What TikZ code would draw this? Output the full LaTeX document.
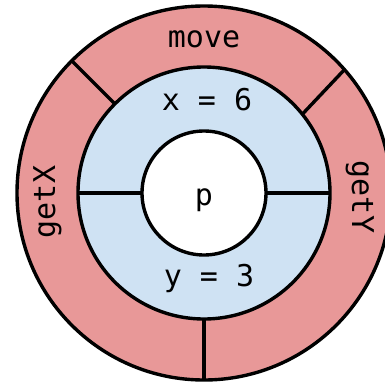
\documentclass[tikz,border=0pt]{standalone}
\usepackage{fontspec}
\setmonofont{DejaVu Sans Mono}
\usetikzlibrary{calc}
\definecolor{ringred}{RGB}{232,152,152}
\definecolor{ringblue}{RGB}{207,226,243}
\begin{document}
\begin{tikzpicture}[x=1pt,y=1pt,
  ringline/.style={line width=3.4pt,draw=black},
  lbl/.style={font=\ttfamily\fontsize{30}{30}\selectfont,inner sep=0pt,anchor=base}]
\useasboundingbox (0,0) rectangle (385,384);
\coordinate (c) at (204,191);
% outer ring
\fill[ringred] (c) circle (187);
\draw[ringline] (c) circle (187);
% middle ring
\fill[ringblue] (c) circle (126);
\draw[ringline] (c) circle (126);
% outer dividers
\draw[ringline] ($(c)+(135:126)$) -- ($(c)+(135:187)$);
\draw[ringline] ($(c)+(38.7:126)$) -- ($(c)+(41.3:187)$);
\draw[ringline] ($(c)+(270:126)$) -- ($(c)+(270:187)$);
% middle dividers
\draw[ringline] ($(c)+(0:62)$) -- ($(c)+(0:126)$);
\draw[ringline] ($(c)+(180:62)$) -- ($(c)+(180:126)$);
% inner circle
\fill[white] (c) circle (62);
\draw[ringline] (c) circle (62);
% labels
\node[lbl] (move) at (204,337) {move};
\node[lbl] (xv) at (207,274) {x = 6};
\node[lbl] (p) at (204,179) {p};
\node[lbl] (yv) at (209,98) {y = 3};
\node[lbl,rotate=90] (getx) at (55,182) {getX};
\node[lbl,rotate=-90] (gety) at (352,187) {getY};
\end{tikzpicture}
\end{document}
